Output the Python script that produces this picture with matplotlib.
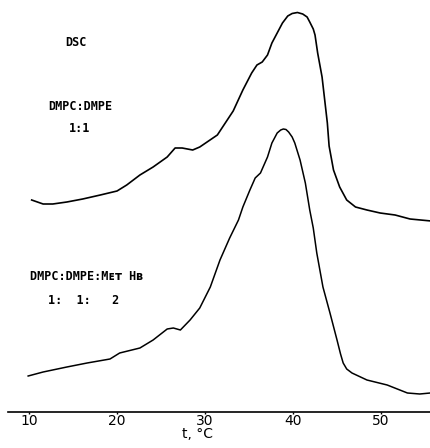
import matplotlib
matplotlib.use("Agg")
import matplotlib.pyplot as plt

#----------------------DATA--------------------------------------------
# temperature, deg C
t_pc_pe = [10.3, 11.6, 12.7, 14.3, 16.1, 18.1, 20.0, 21.1, 22.6, 24.1, 25.7, 26.6,
           27.4, 28.6, 29.4, 31.4, 33.2, 34.3, 35.3, 35.9, 36.5, 37.1, 37.6, 38.2,
           38.8, 39.4, 39.9, 40.5, 41.1, 41.6, 41.9, 42.3, 42.5, 42.8, 43.3, 43.6,
           43.9, 44.1, 44.6, 45.3, 46.1, 47.1, 48.4, 49.9, 51.6, 53.3, 55.7]
# heat flow, arbitrary units
cp_pc_pe = [21.2, 20.8, 20.8, 21.0, 21.3, 21.7, 22.1, 22.7, 23.7, 24.5, 25.5, 26.4,
            26.4, 26.2, 26.5, 27.7, 30.1, 32.2, 33.9, 34.7, 35.0, 35.7, 36.9, 37.9,
            38.9, 39.6, 39.85, 39.95, 39.8, 39.5, 39.0, 38.3, 37.7, 35.9, 33.5, 31.2,
            28.9, 26.6, 24.2, 22.5, 21.2, 20.5, 20.2, 19.9, 19.7, 19.3, 19.1]

t_pc_pe_hb = [9.9, 11.6, 14.3, 16.6, 19.2, 20.3, 22.6, 24.1, 25.7, 26.4, 27.2, 28.3,
              29.4, 30.6, 31.7, 32.8, 33.8, 34.3, 35.1, 35.7, 36.3, 37.1, 37.6, 38.2,
              38.6, 38.9, 39.2, 39.5, 39.9, 40.2, 40.8, 41.4, 41.9, 42.3, 42.7, 43.4,
              44.2, 45.0, 45.4, 45.7, 46.1, 46.7, 48.4, 50.7, 53.0, 54.4, 55.6]
cp_pc_pe_hb = [3.6, 4.0, 4.5, 4.9, 5.3, 5.9, 6.4, 7.2, 8.3, 8.4, 8.2, 9.2,
               10.4, 12.5, 15.2, 17.4, 19.2, 20.5, 22.2, 23.4, 23.9, 25.5, 26.9, 27.9,
               28.2, 28.3, 28.25, 28.0, 27.5, 26.9, 25.2, 22.9, 20.2, 18.4, 15.9, 12.5,
               9.9, 7.2, 5.8, 4.9, 4.3, 3.9, 3.2, 2.7, 1.9, 1.8, 1.9]

x_ticks = [10, 20, 30, 40, 50]
x_tick_labels = ["10", "20", "30", "40", "50"]

label_font = ["DejaVu Sans Mono", "DejaVu Sans"]

fig = plt.figure(figsize=(4.31, 4.48), dpi=100)
ax = fig.add_axes([0, 36/448, 1, 412/448])

ax.plot(t_pc_pe, cp_pc_pe, color="black", lw=1.2)
ax.plot(t_pc_pe_hb, cp_pc_pe_hb, color="black", lw=1.1)

ax.set_xlim(6.7, 55.68)
ax.set_ylim(0, 41.2)

# only the temperature axis is drawn
for side in ["top", "right", "left"]:
    ax.spines[side].set_visible(False)
ax.spines["bottom"].set_bounds(7.6, 55.68)
ax.spines["bottom"].set_linewidth(1.2)
ax.set_yticks([])
ax.set_xticks(x_ticks)
ax.set_xticklabels(x_tick_labels, fontsize=10)
ax.tick_params(axis="x", length=1.5, width=1, pad=0)

fig.text(198/431, 1 - 434/448, "t, \u00b0C", ha="center", va="center", fontsize=10)

# annotations
ax.text(15.3, 36.9, "DSC", ha="center", va="center", fontsize=8.5,
        fontweight="bold", family=label_font)
ax.text(15.8, 30.5, "DMPC:DMPE", ha="center", va="center", fontsize=8.5,
        fontweight="bold", family=label_font)
ax.text(15.7, 28.4, "1:1", ha="center", va="center", fontsize=8.5,
        fontweight="bold", family=label_font)
ax.text(10.1, 13.5, "DMPC:DMPE:M\u1d07\u1d1b H\u0299", ha="left", va="center",
        fontsize=8.5, fontweight="bold", family=label_font)
ax.text(12.2, 11.2, "1:  1:   2", ha="left", va="center", fontsize=8.5,
        fontweight="bold", family=label_font)

plt.savefig("out.png", dpi=100)
